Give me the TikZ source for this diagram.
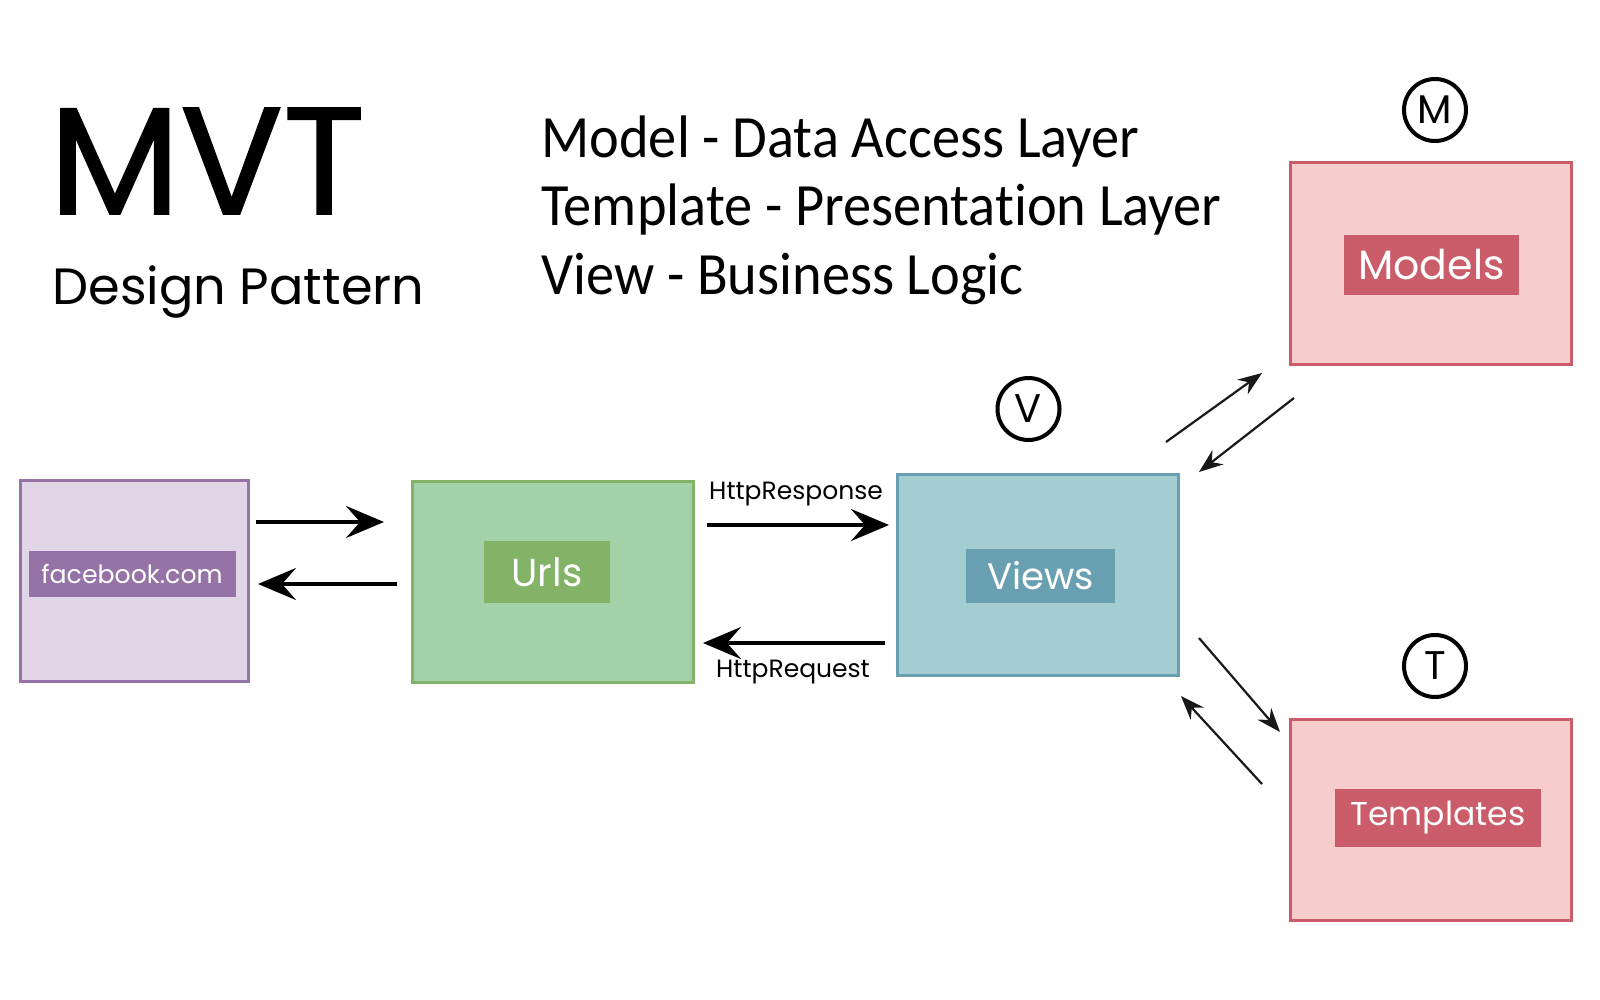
\documentclass[tikz,border=0pt]{standalone}
\usepackage{fontspec}
\setmainfont{Poppins}
\newfontfamily\carlito{Carlito}[FakeStretch=0.94,Ligatures=NoCommon]
\newfontfamily\popheavy{Poppins}[FakeBold=1.2]
\usetikzlibrary{arrows.meta}
\definecolor{fbfill}{HTML}{E1D5E7}
\definecolor{fbdark}{HTML}{9673A6}
\definecolor{urlfill}{HTML}{A3D1A8}
\definecolor{urldark}{HTML}{82B366}
\definecolor{viewfill}{HTML}{A3CDD0}
\definecolor{viewdark}{HTML}{68A0B2}
\definecolor{redfill}{HTML}{F6CCCC}
\definecolor{reddark}{HTML}{CB5D6A}
\tikzset{
  box/.style={draw=#1dark,fill=#1fill,line width=1.5pt,minimum width=140.5pt,minimum height=100.5pt},
  tag/.style={fill=#1dark,text=white,inner sep=0pt},
  letter/.style={circle,draw,line width=2pt,minimum size=31pt,inner sep=0pt,font=\fontsize{20}{20}\selectfont},
  big/.style={-{Stealth[length=19pt,width=16pt,inset=7pt]},line width=2pt},
  small/.style={-{Stealth[length=12pt,width=9pt,inset=4pt]},line width=1.1pt,draw=black!90},
  http/.style={font=\fontsize{12.5}{12.5}\selectfont}
}
\begin{document}
\begin{tikzpicture}[x=0.5pt,y=-0.5pt]
\useasboundingbox (0,0) rectangle (1600,1000);
% titles
\node[anchor=base west,inner sep=0pt,font=\popheavy\fontsize{76}{76}\selectfont] (mvt) at (49,214) {MVT};
\node[anchor=base west,inner sep=0pt,font=\fontsize{25.5}{25.5}\selectfont] (dp) at (52,304) {Design Pattern};
\node[anchor=base west,inner sep=0pt,font=\carlito\fontsize{30}{30}\selectfont] (l1) at (541,158) {Model - Data Access Layer};
\node[anchor=base west,inner sep=0pt,font=\carlito\fontsize{30}{30}\selectfont] (l2) at (541,226) {Template - Presentation Layer};
\node[anchor=base west,inner sep=0pt,font=\carlito\fontsize{30}{30}\selectfont] (l3) at (541,294) {View - Business Logic};
% boxes
\node[box=fb,minimum width=114pt] (fb) at (134,581) {};
\node[box=url] (urls) at (552.5,582) {};
\node[box=view] (views) at (1037.5,575) {};
\node[box=red] (models) at (1431,263.5) {};
\node[box=red] (templates) at (1431,819.5) {};
% labels
\node[tag=fb,minimum width=103.5pt,minimum height=23pt,font=\fontsize{12.6}{12.6}\selectfont] (fbt) at (132,574) {facebook.com};
\node[tag=url,minimum width=63pt,minimum height=31pt,font=\fontsize{19.5}{19.5}\selectfont] (urlst) at (547,572) {Urls};
\node[tag=view,minimum width=74.5pt,minimum height=27pt,font=\fontsize{18.5}{18.5}\selectfont] (viewst) at (1040.5,576) {Views};
\node[tag=red,minimum width=87.5pt,minimum height=30pt,font=\fontsize{20.5}{20.5}\selectfont] (modelst) at (1431.5,265) {Models};
\node[tag=red,minimum width=103pt,minimum height=29pt,font=\fontsize{16.5}{16.5}\selectfont] (templatest) at (1438,818) {Templates};
% letters
\node[letter] (m) at (1435,110) {M};
\node[letter] (v) at (1028.5,409) {V};
\node[letter] (t) at (1435,666) {T};
% arrow ends
\coordinate (a1) at (256,522); \coordinate (a2) at (384,522);
\coordinate (b1) at (397,584); \coordinate (b2) at (258,584);
\coordinate (c1) at (707,525); \coordinate (c2) at (889,525);
\coordinate (d1) at (885,643); \coordinate (d2) at (703,643);
\coordinate (e1) at (1166,442); \coordinate (e2) at (1262,373);
\coordinate (f1) at (1294,398); \coordinate (f2) at (1199,472);
\coordinate (g1) at (1199,638); \coordinate (g2) at (1280,732);
\coordinate (h1) at (1262,784); \coordinate (h2) at (1181,696);
\draw[big] (a1) -- (a2);
\draw[big] (b1) -- (b2);
\draw[big] (c1) -- (c2);
\draw[big] (d1) -- (d2);
\foreach \s/\e in {e1/e2,f1/f2,g1/g2,h1/h2} \draw[small] (\s) -- (\e);
\node[http] (resp) at (796,494) {HttpResponse};
\node[http] (req) at (793,672) {HttpRequest};
\end{tikzpicture}
\end{document}
